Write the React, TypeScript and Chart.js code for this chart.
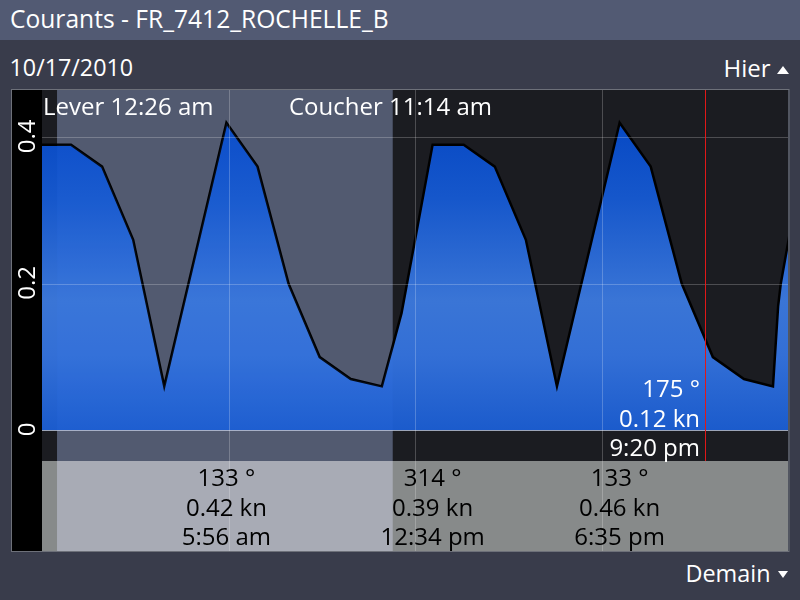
import React, { useEffect, useRef } from "react";
import { Chart, registerables } from "chart.js";

Chart.register(...registerables);

// ---------- data ----------
const TITLE = "Courants - FR_7412_ROCHELLE_B";
const DATE_LABEL = "10/17/2010";
const PREV_LABEL = "Hier";
const NEXT_LABEL = "Demain";

// sample times (hh:mm, hours may exceed 24 for the next-day point) and current speed (kn)
const sampleTimes = [
  "00:00", "00:56", "01:56", "02:56", "03:56", "05:56", "06:56", "07:56", "08:56",
  "09:56", "10:56", "11:34", "12:34", "13:34", "14:34", "15:34", "16:34", "18:35",
  "19:35", "20:35", "21:35", "22:35", "23:31", "23:41", "23:46", "24:34",
];
const speedKn = [
  0.39, 0.39, 0.36, 0.26, 0.06, 0.42, 0.36, 0.2, 0.1,
  0.07, 0.06, 0.16, 0.39, 0.39, 0.36, 0.26, 0.06, 0.42,
  0.36, 0.2, 0.1, 0.07, 0.06, 0.17, 0.2, 0.39,
];

const yTicks = [0, 0.2, 0.4];
const yTickLabels = ["0", "0.2", "0.4"];
const xGridHours = [6, 12, 18];
const axisStartHour = 0;
const axisEndHour = 24;
const speedAxisMin = -0.0419;
const speedAxisMax = 0.4646;

const sunriseTime = "00:29";
const sunsetTime = "11:17";
const sunriseLabel = "Lever 12:26 am";
const sunsetLabel = "Coucher 11:14 am";

const extremeTimes = ["05:56", "12:34", "18:35"];
const extremeDirections = ["133 °", "314 °", "133 °"];
const extremeSpeeds = ["0.42 kn", "0.39 kn", "0.46 kn"];
const extremeTimeLabels = ["5:56 am", "12:34 pm", "6:35 pm"];

const cursorTime = "21:20";
const cursorDirection = "175 °";
const cursorSpeed = "0.12 kn";
const cursorTimeLabel = "9:20 pm";

// ---------- helpers ----------
const toHours = (t: string) => {
  const [h, m] = t.split(":").map(Number);
  return h + m / 60;
};

const FONT = "'Open Sans', 'Noto Sans', sans-serif";
const PANEL_H = 90;

const stagePlugin = {
  id: "stage",
  beforeDraw(chart: any) {
    const { ctx, chartArea: a, scales } = chart;
    const x = scales.x;
    const panelBottom = a.bottom + PANEL_H;
    const d0 = x.getPixelForValue(toHours(sunriseTime));
    const d1 = x.getPixelForValue(toHours(sunsetTime));
    ctx.save();
    ctx.fillStyle = "#000000";
    ctx.fillRect(12, a.top, a.left - 12, panelBottom - a.top);
    ctx.fillStyle = "#1b1c21";
    ctx.fillRect(a.left, a.top, a.right - a.left, a.bottom - a.top);
    ctx.fillStyle = "#525a70";
    ctx.fillRect(d0, a.top, d1 - d0, a.bottom - a.top);
    ctx.fillStyle = "#878a8a";
    ctx.fillRect(a.left, a.bottom, a.right - a.left, PANEL_H);
    ctx.fillStyle = "#a8abb5";
    ctx.fillRect(d0, a.bottom, d1 - d0, PANEL_H);
    ctx.restore();
  },
  afterDatasetsDraw(chart: any) {
    const { ctx, chartArea: a, scales } = chart;
    const x = scales.x;
    const y = scales.y;
    const panelBottom = a.bottom + PANEL_H;
    const y0 = y.getPixelForValue(0);
    const d0 = x.getPixelForValue(toHours(sunriseTime));
    const d1 = x.getPixelForValue(toHours(sunsetTime));

    ctx.save();
    // daylight brightening of the blue area
    const meta = chart.getDatasetMeta(0);
    const pts = meta.data;
    ctx.beginPath();
    ctx.rect(d0, a.top, d1 - d0, y0 - a.top);
    ctx.clip();
    ctx.beginPath();
    ctx.moveTo(pts[0].x, y0);
    for (const p of pts) ctx.lineTo(p.x, p.y);
    ctx.lineTo(pts[pts.length - 1].x, y0);
    ctx.closePath();
    ctx.fillStyle = "rgba(70,130,255,0.09)";
    ctx.fill();
    ctx.restore();

    ctx.save();
    // horizontal grid
    for (const v of yTicks) {
      const py = Math.round(y.getPixelForValue(v)) + 0.5;
      ctx.strokeStyle = v === 0 ? "rgba(200,205,220,0.75)" : "rgba(255,255,255,0.22)";
      ctx.lineWidth = 1;
      ctx.beginPath();
      ctx.moveTo(a.left, py);
      ctx.lineTo(a.right, py);
      ctx.stroke();
    }
    // vertical grid (continues through info panel)
    for (const h of xGridHours) {
      const px = Math.round(x.getPixelForValue(h)) + 0.5;
      ctx.strokeStyle = "rgba(255,255,255,0.22)";
      ctx.beginPath();
      ctx.moveTo(px, a.top);
      ctx.lineTo(px, panelBottom);
      ctx.stroke();
    }
    // cursor
    const cx = Math.round(x.getPixelForValue(toHours(cursorTime))) + 0.5;
    ctx.strokeStyle = "#e01818";
    ctx.beginPath();
    ctx.moveTo(cx, a.top);
    ctx.lineTo(cx, a.bottom);
    ctx.stroke();

    // texts
    ctx.font = `24px ${FONT}`;
    ctx.fillStyle = "#ffffff";
    ctx.textBaseline = "alphabetic";
    ctx.textAlign = "left";
    ctx.fillText(sunriseLabel, a.left + 1, a.top + 25);
    ctx.fillText(sunsetLabel, a.left + 247, a.top + 25);

    ctx.textAlign = "right";
    ctx.fillText(cursorDirection, cx - 5.5, a.bottom - 64.3);
    ctx.fillText(cursorSpeed, cx - 5.5, a.bottom - 34.3);
    ctx.fillText(cursorTimeLabel, cx - 5.5, a.bottom - 5);

    ctx.fillStyle = "#000000";
    ctx.textAlign = "center";
    extremeTimes.forEach((t, i) => {
      const ex = x.getPixelForValue(toHours(t));
      ctx.fillText(extremeDirections[i], ex, a.bottom + 25);
      ctx.fillText(extremeSpeeds[i], ex, a.bottom + 54.5);
      ctx.fillText(extremeTimeLabels[i], ex, a.bottom + 84);
    });

    // rotated y tick labels in the black strip
    ctx.fillStyle = "#ffffff";
    yTicks.forEach((v, i) => {
      const py = y.getPixelForValue(v) - 1;
      ctx.save();
      ctx.translate(35, py);
      ctx.rotate(-Math.PI / 2);
      ctx.textAlign = "center";
      ctx.fillText(yTickLabels[i], 0, 0);
      ctx.restore();
    });

    // frame
    ctx.strokeStyle = "#6d7079";
    ctx.lineWidth = 1;
    ctx.strokeRect(11.5, a.top - 0.5, a.right - 11 + 0.5, panelBottom - a.top + 1);
    ctx.restore();
  },
};

export default function App() {
  const canvasRef = useRef<HTMLCanvasElement | null>(null);

  useEffect(() => {
    const canvas = canvasRef.current;
    if (!canvas) return;
    const points = sampleTimes.map((t, i) => ({ x: toHours(t), y: speedKn[i] }));
    const chart = new Chart(canvas, {
      type: "line",
      data: {
        datasets: [
          {
            data: points,
            borderColor: "#000000",
            borderWidth: 2.5,
            pointRadius: 0,
            tension: 0,
            fill: "origin",
            clip: 0,
            backgroundColor: (c: any) => {
              const { chart: ch } = c;
              const area = ch.chartArea;
              if (!area) return "#2563d0";
              const zy = ch.scales.y.getPixelForValue(0);
              const g = ch.ctx.createLinearGradient(0, area.top, 0, zy);
              g.addColorStop(0, "#0443c0");
              g.addColorStop(0.1, "#0749c4");
              g.addColorStop(0.32, "#1657cb");
              g.addColorStop(0.62, "#3a75d6");
              g.addColorStop(0.78, "#336fd6");
              g.addColorStop(1, "#1b5bcc");
              return g;
            },
          } as any,
        ],
      },
      options: {
        responsive: false,
        animation: false,
        events: [],
        layout: { padding: { left: 42, top: 90, right: 12, bottom: 139 } },
        scales: {
          x: { type: "linear", min: axisStartHour, max: axisEndHour, display: false },
          y: { type: "linear", min: speedAxisMin, max: speedAxisMax, display: false },
        },
        plugins: {
          legend: { display: false },
          tooltip: { enabled: false },
        },
      },
      plugins: [stagePlugin],
    });
    return () => chart.destroy();
  }, []);

  const txt = (size: number): React.CSSProperties => ({
    position: "absolute",
    font: `${size}px/1 ${FONT}`,
    color: "#ffffff",
    whiteSpace: "nowrap",
  });

  return (
    <div
      style={{
        position: "absolute",
        left: 0,
        top: 0,
        width: 800,
        height: 600,
        background: "#393c4b",
        overflow: "hidden",
      }}
    >
      <div style={{ position: "absolute", left: 0, top: 0, width: 800, height: 40, background: "#525a73" }} />
      <span style={{ ...txt(24.6), left: 10, top: 7 }}>{TITLE}</span>
      <span style={{ ...txt(23.3), left: 9.5, top: 56 }}>{DATE_LABEL}</span>
      <span style={{ ...txt(24), right: 29.5, top: 56 }}>{PREV_LABEL}</span>
      <div
        style={{
          position: "absolute",
          left: 776.5,
          top: 66,
          width: 0,
          height: 0,
          borderLeft: "6.5px solid transparent",
          borderRight: "6.5px solid transparent",
          borderBottom: "8px solid #ffffff",
        }}
      />
      <span style={{ ...txt(23.4), right: 29.5, top: 562 }}>{NEXT_LABEL}</span>
      <div
        style={{
          position: "absolute",
          left: 778,
          top: 570.5,
          width: 0,
          height: 0,
          borderLeft: "5.5px solid transparent",
          borderRight: "5.5px solid transparent",
          borderTop: "7px solid #ffffff",
        }}
      />
      <canvas
        ref={canvasRef}
        width={800}
        height={600}
        style={{ position: "absolute", left: 0, top: 0, width: 800, height: 600 }}
      />
    </div>
  );
}
